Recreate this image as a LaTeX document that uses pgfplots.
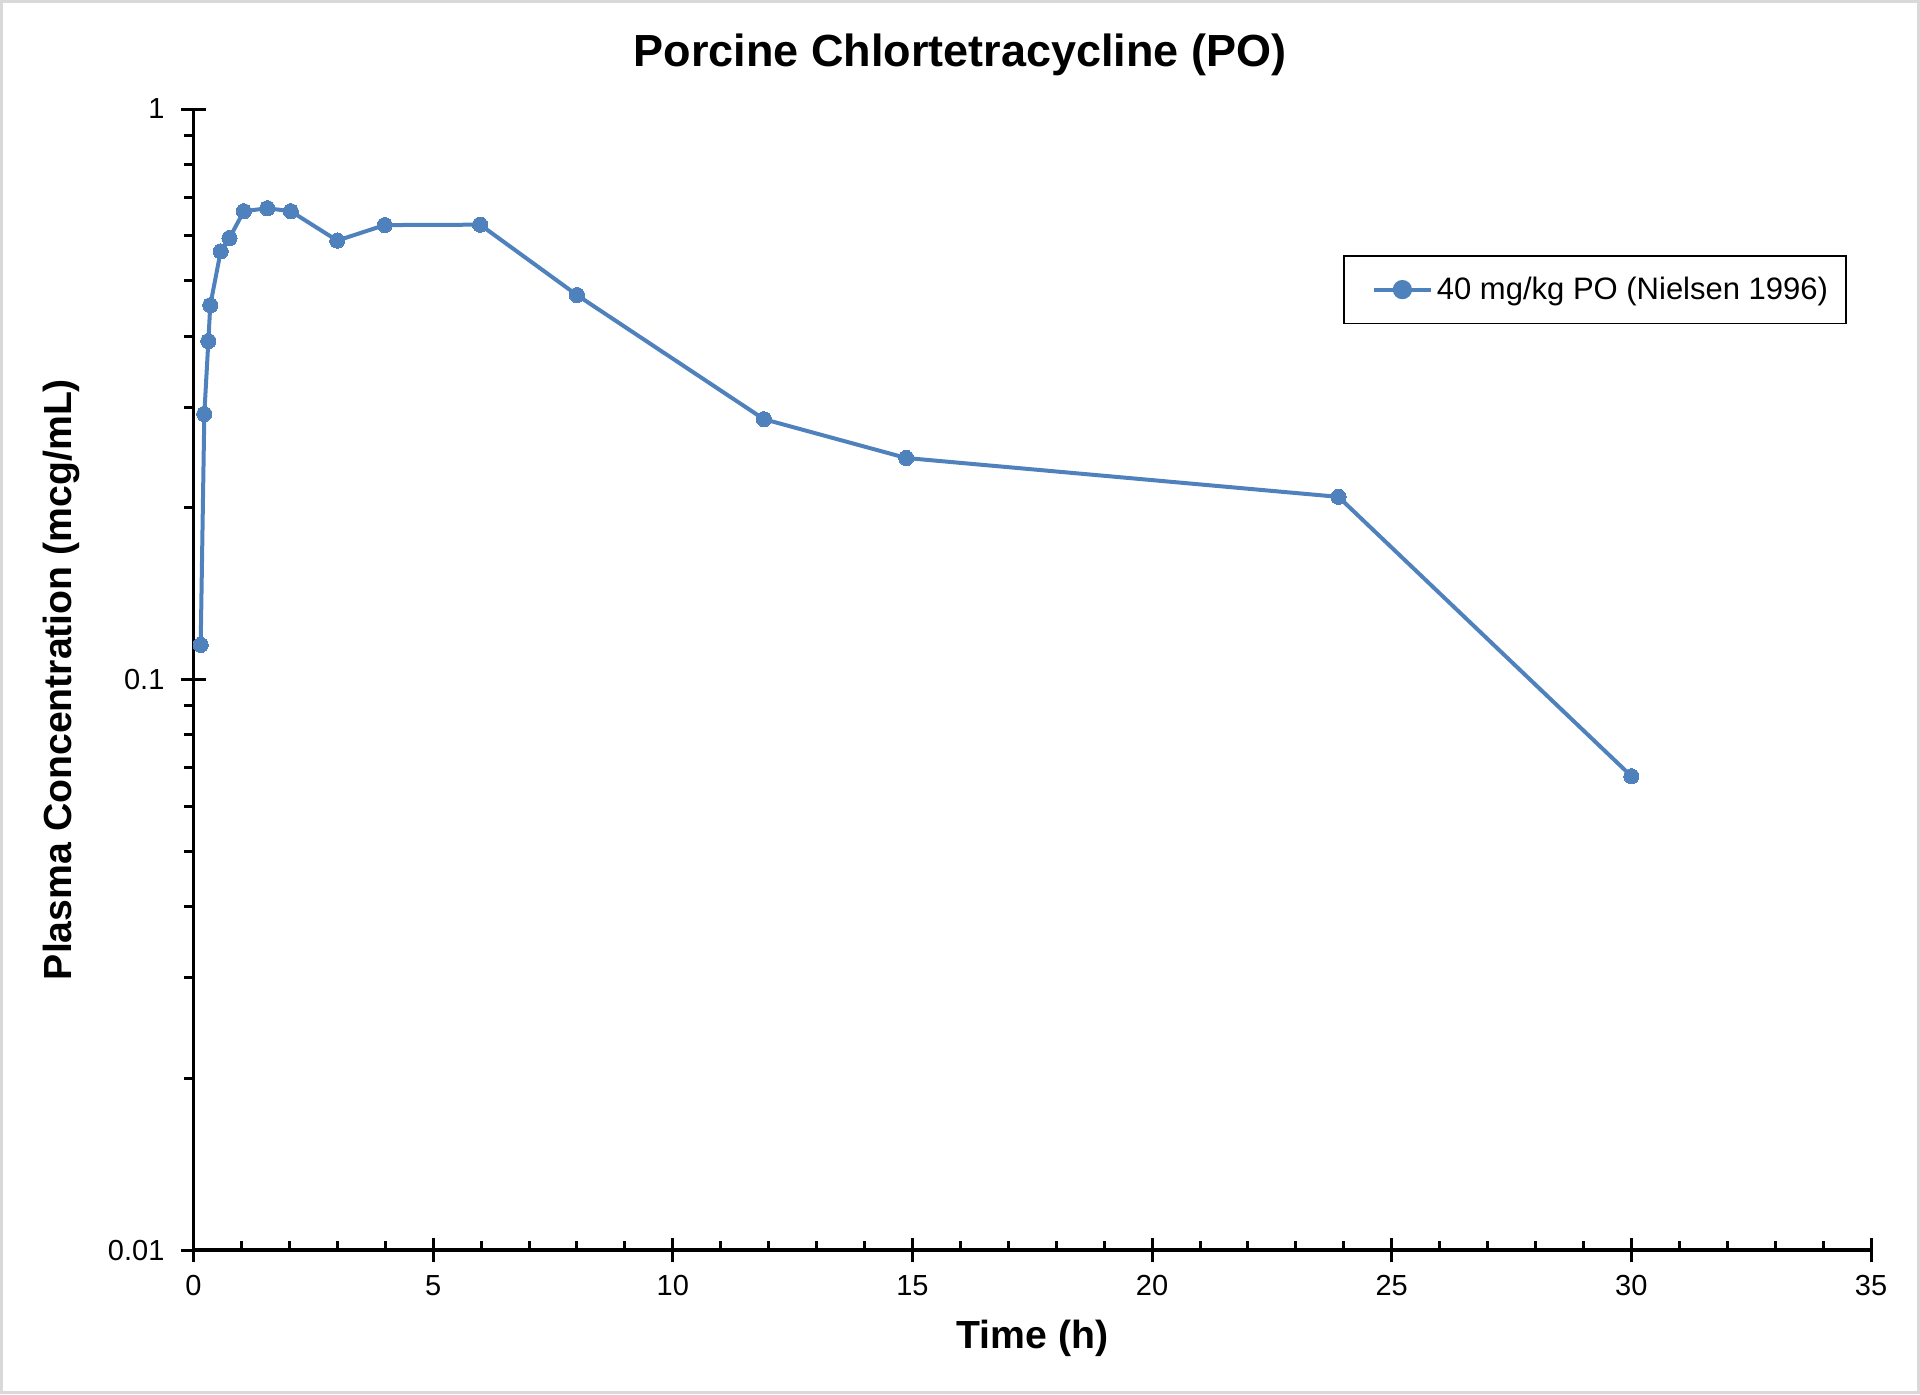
\documentclass[border=0pt]{standalone}
\usepackage{pgfplots}
\pgfplotsset{compat=1.18}
\usepackage{fontspec}
\setmainfont{Liberation Sans}
\definecolor{xlblue}{RGB}{79,129,189}
\definecolor{frame}{RGB}{217,217,217}
\begin{document}
\begin{tikzpicture}
\path[use as bounding box] (-96.75pt,-72pt) rectangle (863.25pt,625pt);
\draw[frame, line width=1.5pt] (-96pt,-71.25pt) rectangle (862.5pt,624.25pt);
\begin{axis}[
  at={(0,0)}, anchor=south west,
  scale only axis, width=838.75pt, height=570.5pt,
  ymode=log, log basis y=10,
  xmin=0, xmax=35, ymin=0.01, ymax=1,
  axis lines*=left,
  axis line style={line width=1.7pt, black},
  xtick={0,5,...,35},
  minor xtick={1,2,3,4,6,7,8,9,11,12,13,14,16,17,18,19,21,22,23,24,26,27,28,29,31,32,33,34},
  ytick={0.01,0.1,1},
  yticklabels={0.01,0.1,1},
  minor ytick={0.02,0.03,0.04,0.05,0.06,0.07,0.08,0.09,0.2,0.3,0.4,0.5,0.6,0.7,0.8,0.9},
  tick align=inside,
  major tick length=12pt,
  minor tick length=4.5pt,
  tick style={line width=1.5pt, black},
  every major x tick/.append style={yshift=-6pt},
  every major y tick/.append style={xshift=-6pt},
  every minor y tick/.append style={xshift=-4.5pt},
  xticklabel style={font=\fontsize{14.5}{17}\selectfont, yshift=-9pt},
  yticklabel style={font=\fontsize{14.5}{17}\selectfont, xshift=-11pt},
  /pgf/number format/assume math mode=true,
  xlabel={\bfseries Time (h)},
  ylabel={\bfseries Plasma Concentration (mcg/mL)},
  xlabel style={font=\fontsize{19.6}{23}\selectfont, at={(axis description cs:0.5,0)}, anchor=center, yshift=-44.3pt},
  ylabel style={font=\fontsize{19.6}{23}\selectfont, at={(axis description cs:-0.079,0.5)}, anchor=center, rotate=0},
  legend style={at={(0.6853,0.872)}, anchor=north west, draw=black, line width=0.8pt,
    font=\fontsize{15.5}{19}\selectfont, inner xsep=7pt, inner ysep=8.5pt},
  legend cell align=left,
  legend image code/.code={\path (0pt,0pt); \draw[#1, line width=2pt] (7pt,0pt) -- (35.5pt,0pt); \fill[xlblue] (21.25pt,0pt) circle (3.8pt);},
  clip=false,
]
\addplot[color=xlblue, line width=2pt, mark=*, mark size=3.8pt, mark options={fill=xlblue, draw=xlblue, line width=0pt}]
coordinates {
(0.15,0.115)
(0.226,0.292)
(0.31,0.392)
(0.35,0.453)
(0.567,0.563)
(0.75,0.594)
(1.05,0.662)
(1.54,0.670)
(2.03,0.662)
(3.0,0.588)
(3.99,0.626)
(5.98,0.627)
(8.0,0.472)
(11.9,0.286)
(14.87,0.2445)
(23.89,0.209)
(30.0,0.0677)
};
\addlegendentry{40 mg/kg PO (Nielsen 1996)}
\end{axis}
\node[font=\fontsize{22.5}{27}\selectfont\bfseries] at (383.25pt,597.5pt) {Porcine Chlortetracycline (PO)};
\end{tikzpicture}
\end{document}
